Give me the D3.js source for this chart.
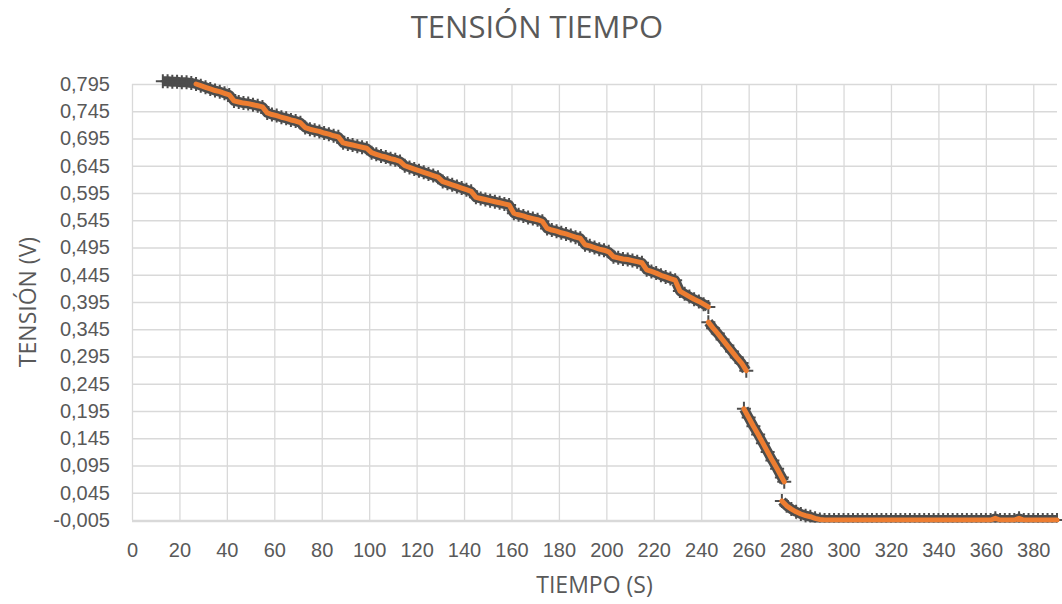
<!DOCTYPE html>
<html>
<head>
<meta charset="utf-8">
<script src="https://d3js.org/d3.v7.min.js"></script>
<style>
  body { margin: 0; background: #fff; }
  svg { display: block; font-family: "Open Sans", sans-serif; }
</style>
</head>
<body>
<div id="chart"></div>
<script>
// time (s) and voltage (V); null = jump in the record (no line drawn)
const tiempo = [
  13, 15, 17, 19, 21, 23, 25, 27, 29, 31, 33, 35, 37, 39, 41, 43, 45, 47, 49, 51,
  53, 55, 57, 59, 61, 63, 65, 67, 69, 71, 73, 75, 77, 79, 81, 83, 85, 87, 89, 91,
  93, 95, 97, 99, 101, 103, 105, 107, 109, 111, 113, 115, 117, 119, 121, 123, 125, 127, 129, 131,
  133, 135, 137, 139, 141, 143, 145, 147, 149, 151, 153, 155, 157, 159, 161, 163, 165, 167, 169, 171,
  173, 175, 177, 179, 181, 183, 185, 187, 189, 191, 193, 195, 197, 199, 201, 203, 205, 207, 209, 211,
  213, 215, 217, 219, 221, 223, 225, 227, 229, 231, 233, 235, 237, 239, 241, 243,
  null,
  243, 245, 247, 249, 251, 253, 255, 257, 259,
  null,
  258, 260, 262, 264, 266, 268, 270, 272, 274, 275,
  null,
  274, 276, 278, 280, 282, 284, 286, 288, 290, 292, 294, 296, 298, 300, 302, 304, 306, 308, 310, 312,
  314, 316, 318, 320, 322, 324, 326, 328, 330, 332, 334, 336, 338, 340, 342, 344, 346, 348, 350, 352,
  354, 356, 358, 360, 362, 364, 366, 368, 370, 372, 374, 376, 378, 380, 382, 384, 386, 388, 390
];
const tension = [
  0.800, 0.800, 0.799, 0.799, 0.798, 0.798, 0.797, 0.795, 0.792, 0.789, 0.786, 0.783, 0.781, 0.778, 0.775, 0.764, 0.762, 0.760, 0.759, 0.757,
  0.755, 0.753, 0.742, 0.739, 0.737, 0.734, 0.732, 0.729, 0.727, 0.724, 0.715, 0.712, 0.710, 0.708, 0.705, 0.703, 0.700, 0.698, 0.687, 0.685,
  0.683, 0.681, 0.679, 0.677, 0.669, 0.666, 0.663, 0.661, 0.658, 0.656, 0.653, 0.645, 0.642, 0.639, 0.636, 0.633, 0.630, 0.627, 0.624, 0.616,
  0.613, 0.610, 0.607, 0.604, 0.601, 0.598, 0.587, 0.585, 0.583, 0.581, 0.579, 0.577, 0.575, 0.573, 0.558, 0.555, 0.553, 0.550, 0.548, 0.546,
  0.543, 0.530, 0.527, 0.525, 0.522, 0.520, 0.517, 0.514, 0.512, 0.500, 0.498, 0.495, 0.492, 0.490, 0.487, 0.478, 0.476, 0.474, 0.473, 0.471,
  0.469, 0.467, 0.454, 0.451, 0.448, 0.444, 0.441, 0.438, 0.435, 0.415, 0.410, 0.405, 0.400, 0.396, 0.391, 0.386,
  null,
  0.358, 0.347, 0.337, 0.326, 0.315, 0.304, 0.293, 0.283, 0.269,
  null,
  0.199, 0.183, 0.167, 0.152, 0.136, 0.120, 0.104, 0.089, 0.073, 0.065,
  null,
  0.030, 0.021, 0.015, 0.010, 0.006, 0.003, 0.001, -0.002, -0.004, -0.005, -0.005, -0.005, -0.005, -0.005, -0.005, -0.005, -0.005, -0.005, -0.005, -0.005,
  -0.005, -0.005, -0.005, -0.005, -0.005, -0.005, -0.005, -0.005, -0.005, -0.005, -0.005, -0.005, -0.005, -0.005, -0.005, -0.005, -0.005, -0.005, -0.005, -0.005,
  -0.005, -0.005, -0.005, -0.005, -0.005, -0.002, -0.005, -0.005, -0.005, -0.005, -0.002, -0.005, -0.005, -0.005, -0.005, -0.005, -0.005, -0.005, -0.005
];
// the orange trace only starts here, the grey markers start earlier
const naranjaDesde = 26;

const xTicks = [0, 20, 40, 60, 80, 100, 120, 140, 160, 180, 200, 220, 240, 260, 280, 300, 320, 340, 360, 380];
const yTicks = [-0.005, 0.045, 0.095, 0.145, 0.195, 0.245, 0.295, 0.345, 0.395, 0.445, 0.495, 0.545, 0.595, 0.645, 0.695, 0.745, 0.795];
const xMax = 390;

const titulo = "TENSIÓN TIEMPO";
const tituloX = "TIEMPO (S)";
const tituloY = "TENSIÓN (V)";

//svg size and plot box
let w = 1062, h = 604;
let plotL = 132, plotR = 1057, plotT = 84, plotB = 520;

let txtColor = "#595959", gridColor = "#d9d9d9", grey = "#4d4d4d", orange = "#ed7d31";

let locale = d3.formatLocale({decimal: ",", thousands: ".", grouping: [3], currency: ["", "€"], minus: "-"});
let fmt = locale.format(".3f");

let xScale = d3.scaleLinear().domain([0, xMax]).range([plotL, plotR]);
let yScale = d3.scaleLinear().domain([yTicks[0], yTicks[yTicks.length - 1]]).range([plotB, plotT]);

let svg = d3.select("#chart")
            .append("svg")
            .attr("width", w)
            .attr("height", h);

//gridlines + labels, y
let yAxis = d3.axisLeft(yScale)
              .tickValues(yTicks)
              .tickSize(-(plotR - plotL))
              .tickPadding(22)
              .tickFormat(fmt);

let gy = svg.append("g")
            .attr("transform", `translate(${plotL}, 0)`)
            .call(yAxis);
gy.select(".domain").remove();
gy.selectAll("line").attr("stroke", gridColor).attr("stroke-width", 1.3);
gy.selectAll("text").attr("fill", txtColor).attr("font-size", "20px");

//gridlines + labels, x
let xAxis = d3.axisBottom(xScale)
              .tickValues(xTicks)
              .tickSize(-(plotB - plotT))
              .tickPadding(23)
              .tickFormat(d3.format("d"));

let gx = svg.append("g")
            .attr("transform", `translate(0, ${plotB})`)
            .call(xAxis);
gx.select(".domain").remove();
gx.selectAll("line").attr("stroke", gridColor).attr("stroke-width", 1.3);
gx.selectAll("text").attr("fill", txtColor).attr("font-size", "20px");

//horizontal axis line
svg.append("line")
   .attr("x1", plotL).attr("x2", plotR)
   .attr("y1", plotB + 1.5).attr("y2", plotB + 1.5)
   .attr("stroke", gridColor)
   .attr("stroke-width", 1.3);

//data
let pts = tiempo.map((t, i) => ({t: t, v: tension[i]}));

svg.append("clipPath")
   .attr("id", "clip")
   .append("rect")
   .attr("x", 0).attr("y", 0)
   .attr("width", w).attr("height", plotB + 2.5);

let plot = svg.append("g").attr("clip-path", "url(#clip)");

let line = d3.line()
             .defined(d => d.v !== null)
             .x(d => xScale(d.t))
             .y(d => yScale(d.v));

//grey band: thick line + "+" markers for the ragged edge
plot.append("path")
    .datum(pts)
    .attr("d", line)
    .attr("fill", "none")
    .attr("stroke", grey)
    .attr("stroke-width", 10)
    .attr("stroke-linejoin", "round");

plot.selectAll(".mk")
    .data(pts.filter(d => d.v !== null))
    .enter()
    .append("path")
    .attr("class", "mk")
    .attr("d", "M-7,0H7M0,-7V7")
    .attr("transform", d => `translate(${xScale(d.t)}, ${yScale(d.v)})`)
    .attr("stroke", grey)
    .attr("stroke-width", 2)
    .attr("fill", "none");

//orange trace
plot.append("path")
    .datum(pts.filter(d => d.v === null || d.t >= naranjaDesde))
    .attr("d", line)
    .attr("fill", "none")
    .attr("stroke", orange)
    .attr("stroke-width", 5)
    .attr("stroke-linejoin", "round")
    .attr("stroke-linecap", "round");

//titles
svg.append("text")
   .attr("x", 537)
   .attr("y", 38)
   .attr("text-anchor", "middle")
   .attr("font-size", "31px")
   .attr("fill", txtColor)
   .text(titulo);

svg.append("text")
   .attr("x", (plotL + plotR) / 2)
   .attr("y", 593)
   .attr("text-anchor", "middle")
   .attr("font-size", "23px")
   .attr("fill", txtColor)
   .text(tituloX);

svg.append("text")
   .attr("transform", `translate(36, ${(plotT + plotB) / 2}) rotate(-90)`)
   .attr("text-anchor", "middle")
   .attr("font-size", "23px")
   .attr("fill", txtColor)
   .text(tituloY);
</script>
</body>
</html>
